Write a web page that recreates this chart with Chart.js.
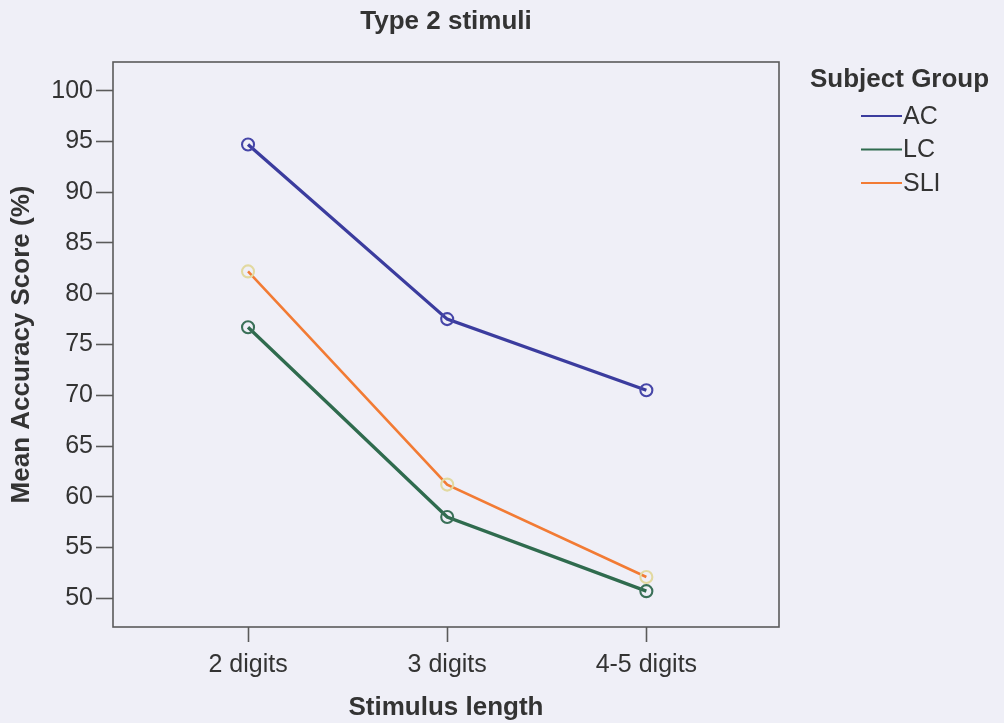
<!DOCTYPE html>
<html>
<head>
<meta charset="utf-8">
<script src="https://cdn.jsdelivr.net/npm/chart.js@4.4.1/dist/chart.umd.min.js"></script>
<style>
  html, body { margin: 0; padding: 0; background: #efeff7; }
  #wrap { width: 1004px; height: 723px; position: relative; }
</style>
</head>
<body>
<div id="wrap"><canvas id="c" width="1004" height="723"></canvas></div>
<script>
// ---- data ----
const chartTitle = "Type 2 stimuli";
const xTitle = "Stimulus length";
const yTitle = "Mean Accuracy Score (%)";
const legendTitle = "Subject Group";
const categories = ["2 digits", "3 digits", "4-5 digits"];
const seriesNames = ["AC", "LC", "SLI"];
const acValues = [94.7, 77.5, 70.5];
const lcValues = [76.7, 58.0, 50.7];
const sliValues = [82.2, 61.2, 52.1];
const yTickValues = [50, 55, 60, 65, 70, 75, 80, 85, 90, 95, 100];

const lineColors = ["#3b3c9e", "#2f6b4e", "#f27b34"];
const markerColors = ["#4646a8", "#3a7058", "#e2d9a0"];
const allValues = [acValues, lcValues, sliValues];

const datasets = seriesNames.map((name, i) => ({
  label: name,
  data: allValues[i].map((v, j) => ({ x: j, y: v })),
  borderColor: lineColors[i],
  borderWidth: i === 2 ? 2.6 : 3.3,
  pointRadius: 6,
  pointBorderWidth: 2.1,
  pointBorderColor: markerColors[i],
  pointBackgroundColor: "rgba(0,0,0,0)",
  fill: false,
  tension: 0
}));
datasets[0].order = 1; datasets[1].order = 3; datasets[2].order = 2;

const FONT = "'Liberation Sans', Arial, sans-serif";

const frame = {
  id: "frame",
  afterDatasetsDraw(chart) {
    const a = chart.chartArea, ctx = chart.ctx;
    ctx.save();
    ctx.strokeStyle = "#5a5a5a";
    ctx.lineWidth = 1.6;
    ctx.strokeRect(a.left, a.top, a.right - a.left, a.bottom - a.top);
    ctx.restore();
  }
};

const titleAndLegend = {
  id: "titleAndLegend",
  afterDraw(chart) {
    const ctx = chart.ctx, a = chart.chartArea;
    ctx.save();
    ctx.fillStyle = "#333";
    ctx.textBaseline = "middle";
    ctx.textAlign = "center";
    ctx.font = "bold 26px " + FONT;
    ctx.fillText(chartTitle, (a.left + a.right) / 2, 22);
    ctx.textAlign = "left";
    ctx.fillText(legendTitle, 810, 80);
    ctx.font = "25px " + FONT;
    chart.data.datasets.forEach((ds, i) => {
      const y = 116 + i * 33.5;
      ctx.strokeStyle = ds.borderColor;
      ctx.lineWidth = 2;
      ctx.beginPath();
      ctx.moveTo(861, y);
      ctx.lineTo(902, y);
      ctx.stroke();
      ctx.fillStyle = "#333";
      ctx.fillText(ds.label, 903, y + 1);
    });
    ctx.restore();
  }
};

new Chart(document.getElementById("c"), {
  type: "line",
  data: { datasets },
  options: {
    responsive: false,
    animation: false,
    layout: { padding: { left: 0, right: 225, top: 62, bottom: 0 } },
    plugins: {
      legend: { display: false },
      tooltip: { enabled: false },
      title: { display: false }
    },
    scales: {
      x: {
        type: "linear",
        min: -0.678,
        max: 2.666,
        afterBuildTicks(scale) {
          scale.ticks = categories.map((c, i) => ({ value: i }));
        },
        afterFit(scale) { scale.height = 96; },
        ticks: {
          color: "#333",
          font: { family: FONT, size: 25 },
          padding: 8,
          maxRotation: 0,
          autoSkip: false,
          callback: (v) => categories[v]
        },
        grid: {
          drawOnChartArea: false,
          drawTicks: true,
          tickLength: 15,
          tickWidth: 1.6,
          tickColor: "#5a5a5a"
        },
        border: { display: false },
        title: {
          display: true,
          text: xTitle,
          color: "#333",
          font: { family: FONT, size: 26, weight: "bold" },
          padding: { top: 0, bottom: 0 }
        }
      },
      y: {
        min: 47.17,
        max: 102.83,
        afterBuildTicks(scale) {
          scale.ticks = yTickValues.map(v => ({ value: v }));
        },
        afterFit(scale) { scale.width = 113; },
        ticks: {
          color: "#333",
          font: { family: FONT, size: 25 },
          padding: 3,
          autoSkip: false
        },
        grid: {
          drawOnChartArea: false,
          drawTicks: true,
          tickLength: 17,
          tickWidth: 1.6,
          tickColor: "#5a5a5a"
        },
        border: { display: false },
        title: {
          display: true,
          text: yTitle,
          color: "#333",
          font: { family: FONT, size: 26, weight: "bold" },
          padding: { top: 6, bottom: 0 }
        }
      }
    }
  },
  plugins: [frame, titleAndLegend]
});
</script>
</body>
</html>
